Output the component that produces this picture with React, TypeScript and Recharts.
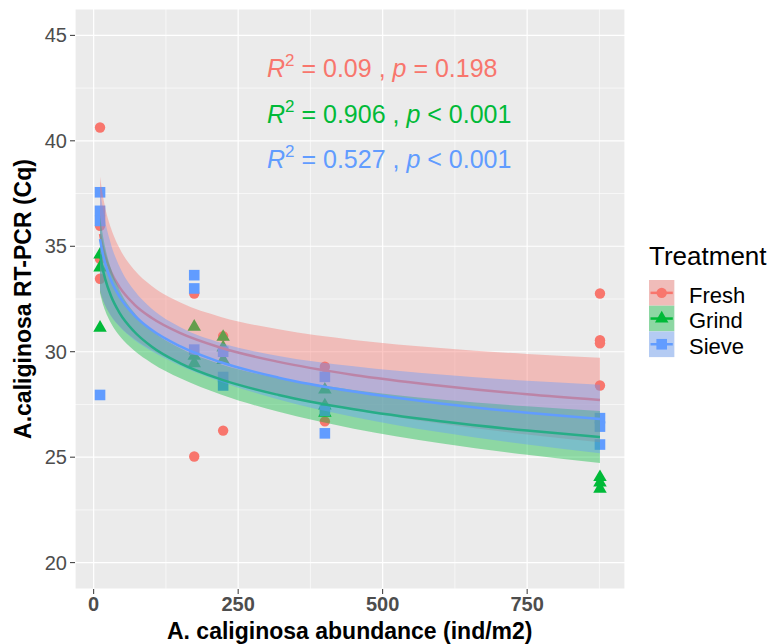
import React from "react";
import {
  ComposedChart,
  XAxis,
  YAxis,
  CartesianGrid,
  ReferenceLine,
  Scatter,
  Area,
  Line,
} from "recharts";

// ---- Data ----
const fitX = [11, 15, 20, 30, 45, 70, 100, 150, 220, 320, 450, 600, 750, 876];
const freshFit = [35.58, 35.03, 34.51, 33.78, 33.05, 32.25, 31.61, 30.88, 30.19, 29.52, 28.9, 28.39, 27.98, 27.71];
const freshLo = [32.85, 32.51, 32.19, 31.71, 31.21, 30.61, 30.09, 29.43, 28.73, 27.98, 27.24, 26.6, 26.07, 25.71];
const freshHi = [38.31, 37.55, 36.83, 35.85, 34.89, 33.89, 33.13, 32.33, 31.65, 31.06, 30.56, 30.18, 29.89, 29.71];
const grindFit = [34.62, 34.01, 33.44, 32.64, 31.83, 30.96, 30.25, 29.45, 28.69, 27.95, 27.27, 26.7, 26.26, 25.96];
const grindLo = [32.78, 32.35, 31.94, 31.35, 30.74, 30.06, 29.47, 28.74, 27.97, 27.15, 26.35, 25.66, 25.11, 24.73];
const grindHi = [36.46, 35.67, 34.94, 33.93, 32.92, 31.86, 31.03, 30.16, 29.41, 28.75, 28.19, 27.74, 27.41, 27.19];
const sieveFit = [35.34, 34.74, 34.18, 33.39, 32.6, 31.74, 31.04, 30.25, 29.5, 28.77, 28.11, 27.55, 27.11, 26.81];
const sieveLo = [32.9, 32.54, 32.19, 31.69, 31.18, 30.57, 30.03, 29.34, 28.58, 27.74, 26.91, 26.18, 25.6, 25.19];
const sieveHi = [37.78, 36.94, 36.17, 35.09, 34.02, 32.91, 32.05, 31.16, 30.42, 29.8, 29.31, 28.92, 28.62, 28.43];

const freshPtsX = [11, 11, 11, 11, 174, 174, 224, 224, 400, 400, 876, 876, 876, 876];
const freshPtsY = [40.63, 35.97, 34.4, 33.46, 32.76, 25.03, 30.74, 26.26, 29.29, 26.7, 32.76, 30.55, 30.4, 28.4];
const grindPtsX = [11, 11, 11, 174, 174, 174, 224, 224, 224, 400, 400, 400, 876, 876, 876];
const grindPtsY = [34.6, 33.99, 31.13, 31.18, 29.8, 29.45, 30.7, 30.2, 29.6, 28.2, 27.45, 27.1, 24.05, 23.8, 23.5];
const sievePtsX = [11, 11, 11, 11, 174, 174, 174, 224, 224, 224, 400, 400, 400, 876, 876, 876];
const sievePtsY = [37.56, 36.68, 36.2, 27.95, 33.63, 33.0, 30.1, 30.0, 28.8, 28.4, 28.81, 27.2, 26.13, 26.85, 26.45, 25.6];

const xTicks = [0, 250, 500, 750];
const xMinor = [125, 375, 625, 875];
const yTicks = [20, 25, 30, 35, 40, 45];
const yMinor = [22.5, 27.5, 32.5, 37.5, 42.5];

const treatments = ["Fresh", "Grind", "Sieve"];
const colors = ["#F8766D", "#00BA38", "#619CFF"];
const annotations = [
  { r2: "0.09", p: "= 0.198" },
  { r2: "0.906", p: "< 0.001" },
  { r2: "0.527", p: "< 0.001" },
];

const chartData = fitX.map((x, i) => ({
  x,
  fresh: freshFit[i],
  freshBand: [freshLo[i], freshHi[i]],
  grind: grindFit[i],
  grindBand: [grindLo[i], grindHi[i]],
  sieve: sieveFit[i],
  sieveBand: [sieveLo[i], sieveHi[i]],
}));
const toPts = (xs: number[], ys: number[]) => xs.map((x, i) => ({ x, y: ys[i] }));
const freshPts = toPts(freshPtsX, freshPtsY);
const grindPts = toPts(grindPtsX, grindPtsY);
const sievePts = toPts(sievePtsX, sievePtsY);

const FONT = "'Liberation Sans', Arial, sans-serif";

const CircleShape = (props: any) => (
  <circle cx={props.cx} cy={props.cy} r={5.2} fill={colors[0]} />
);
const TriShape = (props: any) => {
  const { cx, cy } = props;
  const s = 13.5;
  const h = s * 0.866;
  return (
    <polygon
      points={`${cx},${cy - (2 * h) / 3} ${cx - s / 2},${cy + h / 3} ${cx + s / 2},${cy + h / 3}`}
      fill={colors[1]}
    />
  );
};
const SqShape = (props: any) => (
  <rect x={props.cx - 5.3} y={props.cy - 5.3} width={10.6} height={10.6} fill={colors[2]} />
);

export default function App() {
  const W = 774;
  const H = 644;
  const z: any = (n: number) => ({ zIndex: n });
  return (
    <div style={{ position: "absolute", left: 0, top: 0, width: W, height: H, background: "#fff" }}>
      <ComposedChart
        width={W}
        height={H}
        data={chartData}
        margin={{ top: 9, right: 149, bottom: 25, left: 0 }}
      >
        <CartesianGrid fill="#EBEBEB" stroke="#FFFFFF" strokeWidth={1.2} />
        {xMinor.map((v) => (
          <ReferenceLine key={"xm" + v} x={v} stroke="#FFFFFF" strokeWidth={0.6} {...z(-50)} />
        ))}
        {yMinor.map((v) => (
          <ReferenceLine key={"ym" + v} y={v} stroke="#FFFFFF" strokeWidth={0.6} {...z(-50)} />
        ))}
        <XAxis
          dataKey="x"
          type="number"
          domain={[-32.3, 919.3]}
          ticks={xTicks}
          allowDataOverflow
          axisLine={false}
          height={30}
          tickSize={5}
          tickMargin={3}
          tickLine={{ stroke: "#333333", strokeWidth: 1 }}
          tick={{ fill: "#4D4D4D", fontSize: 20, fontWeight: "bold", fontFamily: FONT }}
        />
        <YAxis
          type="number"
          domain={[18.75, 46.25]}
          ticks={yTicks}
          allowDataOverflow
          axisLine={false}
          width={75}
          tickSize={5}
          tickMargin={3}
          tickLine={{ stroke: "#333333", strokeWidth: 1 }}
          tick={{ fill: "#4D4D4D", fontSize: 20, fontFamily: FONT }}
        />
        <Scatter data={freshPts} dataKey="y" shape={CircleShape} isAnimationActive={false} {...z(50)} />
        <Scatter data={grindPts} dataKey="y" shape={TriShape} isAnimationActive={false} {...z(50)} />
        <Scatter data={sievePts} dataKey="y" shape={SqShape} isAnimationActive={false} {...z(50)} />
        <Area dataKey="freshBand" type="monotone" stroke="none" fill={colors[0]} fillOpacity={0.4} isAnimationActive={false} {...z(101)} />
        <Line dataKey="fresh" type="monotone" stroke={colors[0]} strokeWidth={2.5} dot={false} activeDot={false} isAnimationActive={false} {...z(102)} />
        <Area dataKey="grindBand" type="monotone" stroke="none" fill={colors[1]} fillOpacity={0.4} isAnimationActive={false} {...z(103)} />
        <Line dataKey="grind" type="monotone" stroke={colors[1]} strokeWidth={2.5} dot={false} activeDot={false} isAnimationActive={false} {...z(104)} />
        <Area dataKey="sieveBand" type="monotone" stroke="none" fill={colors[2]} fillOpacity={0.4} isAnimationActive={false} {...z(105)} />
        <Line dataKey="sieve" type="monotone" stroke={colors[2]} strokeWidth={2.5} dot={false} activeDot={false} isAnimationActive={false} {...z(106)} />
      </ComposedChart>
      <svg
        width={W}
        height={H}
        style={{ position: "absolute", left: 0, top: 0, pointerEvents: "none" }}
        fontFamily={FONT}
      >
        {annotations.map((a, i) => (
          <text key={i} x={267} y={76.7 + i * 45.8} fontSize={25} fill={colors[i]}>
            <tspan fontStyle="italic">R</tspan>
            <tspan dy={-11} fontSize={17}>2</tspan>
            <tspan dy={11}>{` = ${a.r2} , `}</tspan>
            <tspan fontStyle="italic">p</tspan>
            <tspan>{` ${a.p}`}</tspan>
          </text>
        ))}
        <text x={349.75} y={639} fontSize={23} fontWeight="bold" textAnchor="middle" fill="#000">
          A. caliginosa abundance (ind/m2)
        </text>
        <text
          transform="rotate(-90)"
          x={-299}
          y={31}
          fontSize={23}
          fontWeight="bold"
          textAnchor="middle"
          fill="#000"
        >
          A.caliginosa RT-PCR (Cq)
        </text>
        <text x={649} y={265} fontSize={26} fill="#000">
          Treatment
        </text>
        {treatments.map((t, i) => {
          const y0 = 280 + i * 25.7;
          const cy = y0 + 12.85;
          const cx = 661.7;
          return (
            <g key={t}>
              <rect x={649} y={y0} width={25.3} height={25.7} fill="#EBEBEB" />
              <rect x={649} y={y0} width={25.3} height={25.7} fill={colors[i]} fillOpacity={0.4} />
              <line x1={650.5} x2={672.8} y1={cy} y2={cy} stroke={colors[i]} strokeWidth={2.5} />
              {i === 0 && <circle cx={cx} cy={cy} r={5.2} fill={colors[0]} />}
              {i === 1 && (
                <polygon
                  points={`${cx},${cy - 7.8} ${cx - 6.75},${cy + 3.9} ${cx + 6.75},${cy + 3.9}`}
                  fill={colors[1]}
                />
              )}
              {i === 2 && <rect x={cx - 5.3} y={cy - 5.3} width={10.6} height={10.6} fill={colors[2]} />}
              <text x={689} y={302.5 + i * 25.7} fontSize={22} fill="#000">
                {t}
              </text>
            </g>
          );
        })}
      </svg>
    </div>
  );
}
